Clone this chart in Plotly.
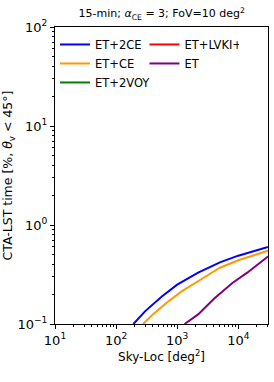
import plotly.graph_objects as go

sky_2ce = [192, 300, 560, 1000, 2200, 5000, 10000, 30600]
t_2ce = [0.10, 0.135, 0.19, 0.25, 0.33, 0.42, 0.49, 0.60]
sky_ce = [277, 400, 680, 1200, 2400, 5000, 10000, 30600]
t_ce = [0.10, 0.125, 0.165, 0.215, 0.28, 0.37, 0.44, 0.55]
sky_et = [1320, 2200, 4000, 8000, 14000, 30600]
t_et = [0.10, 0.125, 0.18, 0.26, 0.33, 0.48]
sky_2voy = [None]
t_2voy = [None]
sky_lvki = [None]
t_lvki = [None]

x_ticks = [10, 100, 1000, 10000]
x_ticktext = ["10<sup>1</sup>", "10<sup>2</sup>", "10<sup>3</sup>", "10<sup>4</sup>"]
y_ticks = [0.1, 1, 10, 100]
y_ticktext = ["10<sup>−1</sup>", "10<sup>0</sup>", "10<sup>1</sup>", "10<sup>2</sup>"]

font = "DejaVu Sans"
fig = go.Figure()
series = [
    ("ET+2CE", sky_2ce, t_2ce, "#0000ff"),
    ("ET+LVKI+", sky_lvki, t_lvki, "#ff0000"),
    ("ET+CE", sky_ce, t_ce, "#ff9900"),
    ("ET", sky_et, t_et, "#800080"),
    ("ET+2VOY", sky_2voy, t_2voy, "#008000"),
]
for name, x, y, c in series:
    fig.add_trace(go.Scatter(x=x, y=y, mode="lines", name=name,
                             line=dict(color=c, width=2)))

def minor_vals(lo, hi):
    vals = []
    for k in range(lo, hi):
        for m in range(2, 10):
            vals.append(m * 10 ** k)
    return vals

axcommon = dict(type="log", showline=True, linecolor="black", linewidth=1,
                mirror=True, ticks="outside", ticklen=4, tickcolor="black",
                showgrid=False, zeroline=False, tickmode="array",
                tickfont=dict(family=font, size=13, color="black"))
fig.update_xaxes(range=[1, 4.486], tickvals=x_ticks, ticktext=x_ticktext,
                 minor=dict(ticks="outside", ticklen=2, tickcolor="black", tickmode="array", tickvals=minor_vals(1, 5), showgrid=False),
                 title=dict(text="Sky-Loc [deg<sup>2</sup>]", font=dict(family=font, size=12, color="black"), standoff=6), **axcommon)
fig.update_yaxes(range=[-1, 2], tickvals=y_ticks, ticktext=y_ticktext,
                 minor=dict(ticks="outside", ticklen=2, tickcolor="black", tickmode="array", tickvals=[v / 100 for v in minor_vals(1, 4)], showgrid=False),
                 title=dict(text="CTA-LST time [%, <i>θ</i><sub>v</sub> < 45°]", font=dict(family=font, size=12.5, color="black"), standoff=4), **axcommon)

fig.update_layout(
    width=274, height=382,
    margin=dict(l=54, r=5, t=27, b=58),
    paper_bgcolor="white", plot_bgcolor="white",
    title=dict(text="15-min; <i>α</i><sub>CE</sub> = 3; FoV=10 deg<sup>2</sup>", x=0.59, xanchor="center", y=0.965, yanchor="middle",
               font=dict(family=font, size=11, color="black")),
    legend=dict(orientation="h", x=0.0, y=0.99, xanchor="left", yanchor="top",
                entrywidth=0.42, entrywidthmode="fraction", bgcolor="rgba(0,0,0,0)",
                font=dict(family=font, size=11.5, color="black"), tracegroupgap=0, itemwidth=30),
    showlegend=True,
)
fig.write_html("out.html", config={"displayModeBar": False},
               post_script="document.body.style.margin='0';document.body.style.padding='0';")
